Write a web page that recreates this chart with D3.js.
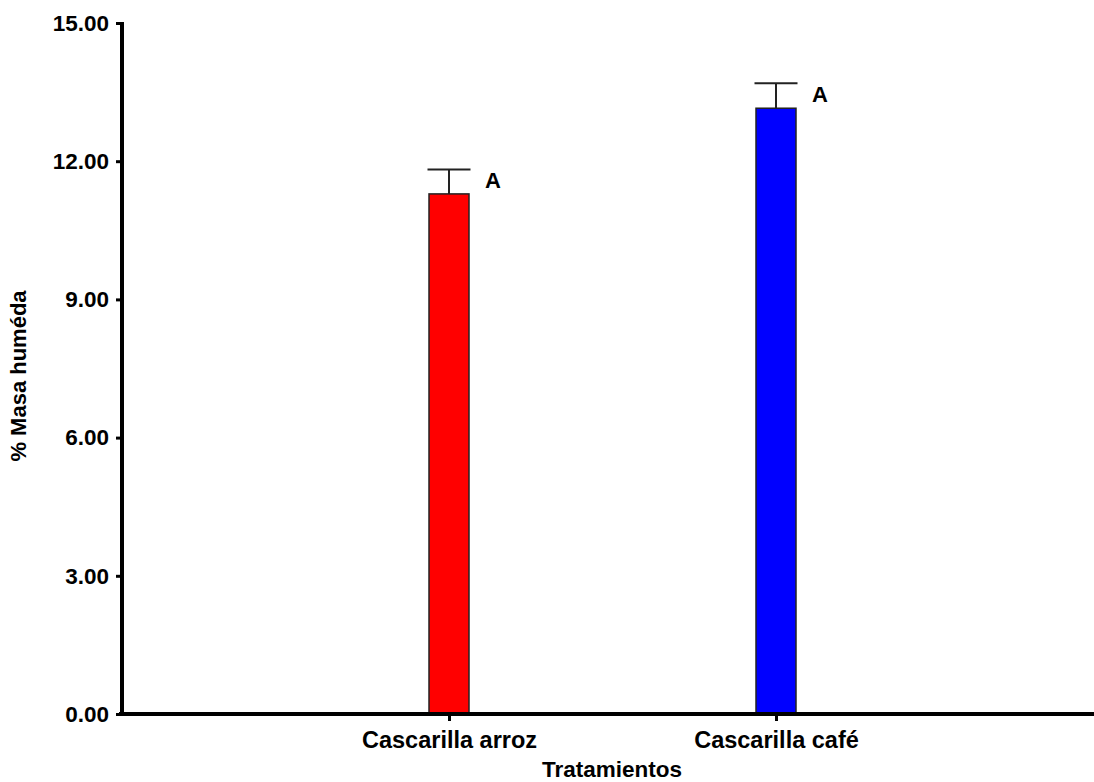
<!DOCTYPE html>
<html>
<head>
<meta charset="utf-8">
<script src="https://cdn.jsdelivr.net/npm/d3@7"></script>
<style>
  html, body { margin: 0; padding: 0; background: #fff; }
  svg text { font-family: "Liberation Sans", Arial, sans-serif; font-weight: bold; fill: #000; }
</style>
</head>
<body>
<svg id="chart" width="1094" height="782"></svg>
<script>
// Treatments and their mean wet-mass percentage with standard error
const categories = ["Cascarilla arroz", "Cascarilla café"];
const means = [11.29, 13.15];
const errors = [0.53, 0.54];
const letters = ["A", "A"];
const barColors = ["#ff0000", "#0000ff"];
const yTicks = [0, 3, 6, 9, 12, 15];

const svg = d3.select("#chart");
const x0 = 122, x1 = 1103, yBottom = 714, yTop = 23;

const x = d3.scalePoint().domain(categories).range([x0, x1]).padding(1);
const y = d3.scaleLinear().domain([0, 15]).range([yBottom, yTop]);

const barW = 40, capW = 43;

// Error bars (drawn beneath bars so only the upper whisker shows)
const eb = svg.append("g");
categories.forEach((c, i) => {
  const cx = x(c);
  eb.append("line")
    .attr("x1", cx).attr("x2", cx)
    .attr("y1", y(means[i])).attr("y2", y(means[i] + errors[i]))
    .attr("stroke", "#222").attr("stroke-width", 2);
  eb.append("line")
    .attr("x1", cx - capW / 2).attr("x2", cx + capW / 2)
    .attr("y1", y(means[i] + errors[i])).attr("y2", y(means[i] + errors[i]))
    .attr("stroke", "#222").attr("stroke-width", 2);
});

// Bars
svg.append("g").selectAll("rect")
  .data(categories)
  .join("rect")
  .attr("x", d => x(d) - barW / 2)
  .attr("width", barW)
  .attr("y", (d, i) => y(means[i]))
  .attr("height", (d, i) => y(0) - y(means[i]))
  .attr("fill", (d, i) => barColors[i])
  .attr("stroke", "#222")
  .attr("stroke-width", 1.5);

// Significance letters
svg.append("g").selectAll("text")
  .data(categories)
  .join("text")
  .attr("x", d => x(d) + 36)
  .attr("y", (d, i) => y(means[i] + errors[i]) + 19)
  .attr("font-size", 22)
  .text((d, i) => letters[i]);

// Y axis
const yAxis = svg.append("g").attr("transform", `translate(${x0},0)`)
  .call(d3.axisLeft(y).tickValues(yTicks).tickFormat(d3.format(".2f")).tickSize(6).tickPadding(7));
yAxis.select(".domain").attr("stroke", "#000").attr("stroke-width", 4)
  .attr("d", `M0,${yTop - 1}V${yBottom + 2}`);
yAxis.selectAll(".tick line").attr("stroke", "#000").attr("stroke-width", 3);
yAxis.selectAll(".tick text").attr("font-size", 22.5).attr("font-family", null).attr("font-weight", null);

// X axis
const xAxis = svg.append("g").attr("transform", `translate(0,${yBottom})`)
  .call(d3.axisBottom(x).tickSize(7).tickPadding(10));
xAxis.select(".domain").attr("stroke", "#000").attr("stroke-width", 4)
  .attr("d", `M${x0 - 3},0H1094`);
xAxis.selectAll(".tick line").attr("stroke", "#000").attr("stroke-width", 3);
xAxis.selectAll(".tick text").attr("font-size", 23.5).attr("font-family", null).attr("font-weight", null);

// Axis titles
svg.append("text")
  .attr("x", 612).attr("y", 777)
  .attr("text-anchor", "middle").attr("font-size", 22.5)
  .text("Tratamientos");

svg.append("text")
  .attr("transform", "translate(26,376) rotate(-90)")
  .attr("text-anchor", "middle").attr("font-size", 22)
  .text("% Masa huméda");
</script>
</body>
</html>
